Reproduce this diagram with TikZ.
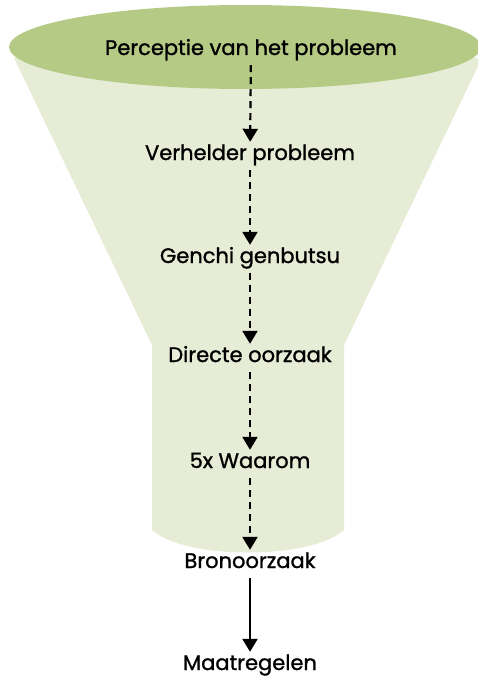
\documentclass[tikz,border=0pt]{standalone}
\usepackage{fontspec}
\setmainfont{Poppins}[FakeBold=1.2]
\usetikzlibrary{arrows.meta}
\definecolor{cone}{HTML}{E6ECD6}
\definecolor{rim}{HTML}{B5CB85}
\tikzset{
  lbl/.style={font=\fontsize{21}{23}\selectfont, inner sep=0pt, text height=14pt, text depth=4pt},
  dashconn/.style={line width=2.2pt, dash pattern=on 7pt off 5pt, -{Triangle[length=13pt,width=15pt]}, shorten <=6pt, shorten >=4pt},
  solidconn/.style={line width=2.2pt, -{Triangle[length=13pt,width=15pt]}, shorten <=6pt, shorten >=4pt}
}
\begin{document}
\begin{tikzpicture}[x=1pt,y=-1pt]
\useasboundingbox (0,0) rectangle (478,682);
\begin{scope}
\clip (0,0) rectangle (478,682);
\fill[cone] (14,58) -- (152,345) -- (152,530) .. controls (185,560) and (311,560) .. (344,530) -- (344,345) -- (482,58) -- cycle;
\fill[rim] (245,47) ellipse [x radius=236, y radius=42];
\end{scope}
\node[lbl] (p1) at (251,50) {Perceptie van het probleem};
\node[lbl] (p2) at (250,155) {Verhelder probleem};
\node[lbl] (p3) at (250,258) {Genchi genbutsu};
\node[lbl] (p4) at (250,357) {Directe oorzaak};
\node[lbl] (p5) at (250,463) {5x Waarom};
\node[lbl] (p6) at (250,563) {Bronoorzaak};
\node[lbl] (p7) at (250,665) {Maatregelen};
\draw[dashconn] (p1) -- (p2);
\draw[dashconn] (p2) -- (p3);
\draw[dashconn] (p3) -- (p4);
\draw[dashconn] (p4) -- (p5);
\draw[dashconn] (p5) -- (p6);
\draw[solidconn] (p6) -- (p7);
\end{tikzpicture}
\end{document}
